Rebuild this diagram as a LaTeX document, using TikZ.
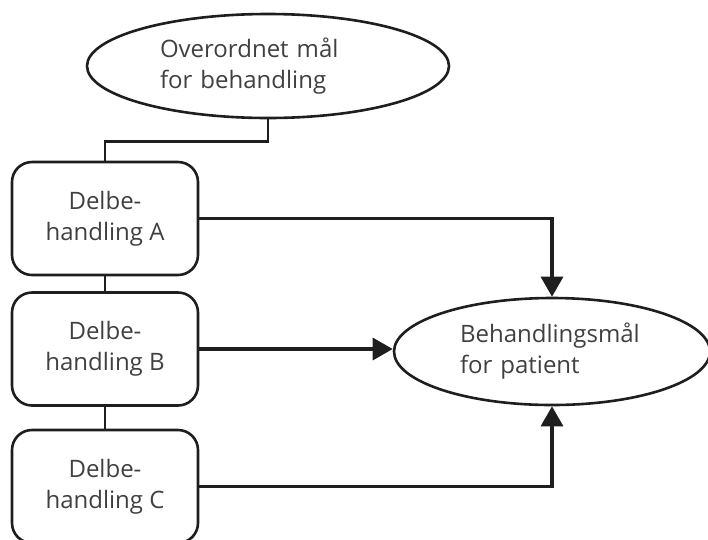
\documentclass[tikz,border=0pt]{standalone}
\usepackage{fontspec}
\setmainfont{Open Sans}
\usetikzlibrary{shapes.geometric,arrows.meta}
\definecolor{ink}{HTML}{1E1E1E}
\definecolor{txt}{HTML}{404040}
\begin{document}
\begin{tikzpicture}[x=1pt,y=-1pt,
  every node/.style={font=\fontsize{24}{31}\selectfont, text=txt},
  goal/.style={ellipse, draw=ink, line width=2.6pt, inner sep=0pt, align=left},
  part/.style={draw=ink, line width=2.6pt, rounded corners=20pt,
    minimum width=186pt, minimum height=113pt, inner sep=0pt, align=center},
  link/.style={draw=ink, line width=2.4pt},
  feed/.style={draw=ink, line width=3.2pt, -{Triangle[length=20pt,width=22pt]}}]
\useasboundingbox (0,0) rectangle (708,539);
\node[goal, minimum width=362pt, minimum height=104pt, text width=216pt]
  (top) at (268,66) {Overordnet mål\\for behandling};
\node[part] (A) at (105,218.5) {Delbe-\\handling A};
\node[part] (B) at (105,349) {Delbe-\\handling B};
\node[part] (C) at (105,486.5) {Delbe-\\handling C};
\node[goal, minimum width=316pt, minimum height=107pt, text width=184pt]
  (P) at (552,351.5) {Behandlingsmål\\for patient};
% hierarchy lines
\draw[link] (top.south) -- ++(0,22) -| (A.north);
\draw[link] (A.south) -- (B.north);
\draw[link] (B.south) -- (C.north);
% contributions to the patient goal
\draw[feed] (A.east) -| (P.north);
\draw[feed] (B.east) -- (B.east -| P.west);
\draw[feed] (C.east) -| (P.south);
\end{tikzpicture}
\end{document}
